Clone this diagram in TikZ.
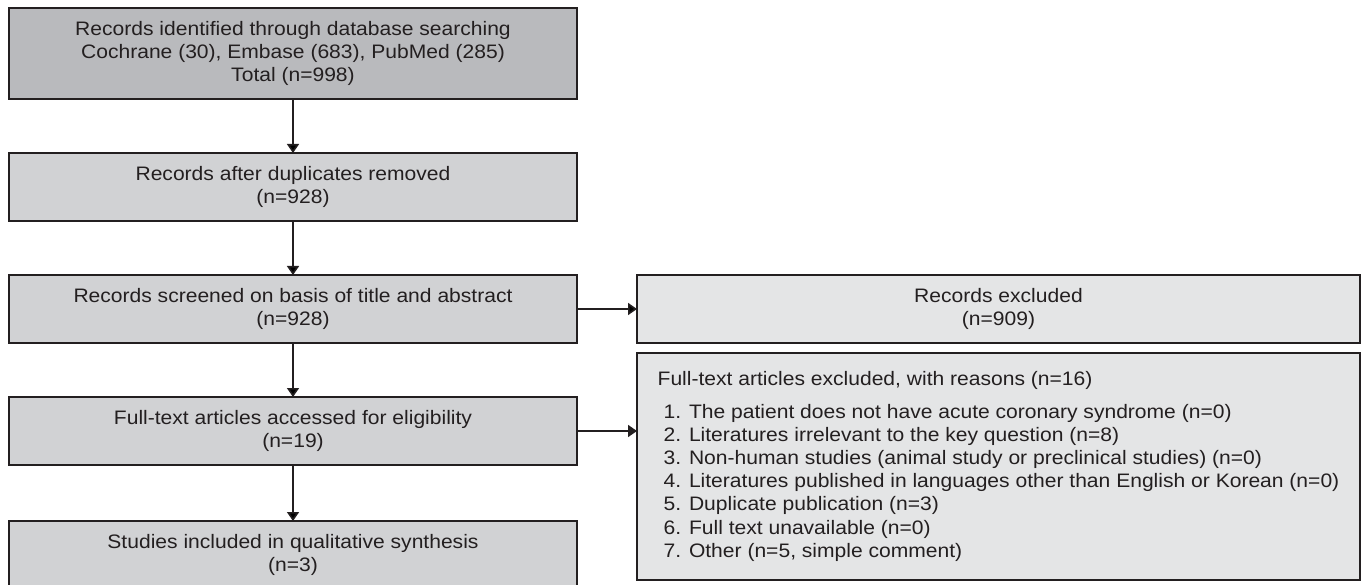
\documentclass[tikz,border=0pt]{standalone}
\usepackage{fontspec}
\setmainfont{Liberation Sans}[FakeStretch=1.08]
\usetikzlibrary{positioning, arrows.meta}
\definecolor{ink}{HTML}{231F20}
\definecolor{darkbox}{HTML}{B9BABD}
\definecolor{midbox}{HTML}{D1D2D4}
\definecolor{lightbox}{HTML}{E4E5E6}
\tikzset{
  ->,
  >={Triangle[length=9pt,width=12pt]},
  node distance=54pt,
  every node/.style={font=\fontsize{19.5}{23.2}\selectfont, text=ink},
  stage/.style={draw=ink, line width=2pt, fill=midbox, minimum width=568pt,
    minimum height=68pt, align=center, inner sep=0pt, outer sep=0pt},
  excluded/.style={draw=ink, line width=2pt, fill=lightbox, minimum width=723pt,
    minimum height=68pt, align=center, inner sep=0pt, outer sep=0pt},
  flow/.style={line width=1.6pt, draw=ink},
}

\begin{document}
\begin{tikzpicture}[x=1pt, y=-1pt]
  \useasboundingbox (0,0) rectangle (1368,585);

  \node[stage, fill=darkbox, minimum height=91pt] at (293,53.5) (ident)
    {Records identified through database searching\\Cochrane (30), Embase (683), PubMed (285)\\Total (n=998)};
  \node[stage, below=of ident]        (dedup)  {Records after duplicates removed\\(n=928)};
  \node[stage, below=of dedup]        (screen) {Records screened on basis of title and abstract\\(n=928)};
  \node[stage, below=of screen]       (full)   {Full-text articles accessed for eligibility\\(n=19)};
  \node[stage, below=56pt of full]    (incl)   {Studies included in qualitative synthesis\\(n=3)};

  \node[excluded, right=60pt of screen] (excl) {Records excluded\\(n=909)};
  \node[excluded, align=left, minimum height=227pt, below=10pt of excl] (reasons)
    {Full-text articles excluded, with reasons (n=16)\\[9pt]
     \hspace*{6pt}1. The patient does not have acute coronary syndrome (n=0)\\
     \hspace*{6pt}2. Literatures irrelevant to the key question (n=8)\\
     \hspace*{6pt}3. Non-human studies (animal study or preclinical studies) (n=0)\\
     \hspace*{6pt}4. Literatures published in languages other than English or Korean (n=0)\\
     \hspace*{6pt}5. Duplicate publication (n=3)\\
     \hspace*{6pt}6. Full text unavailable (n=0)\\
     \hspace*{6pt}7. Other (n=5, simple comment)};

  \draw[flow] (ident)  edge (dedup)
              (dedup)  edge (screen)
              (screen) edge (full)
              (full)   edge (incl)
              (screen) edge (excl);
  \draw[flow] (full.east) -- (full.east -| reasons.west);
\end{tikzpicture}
\end{document}
